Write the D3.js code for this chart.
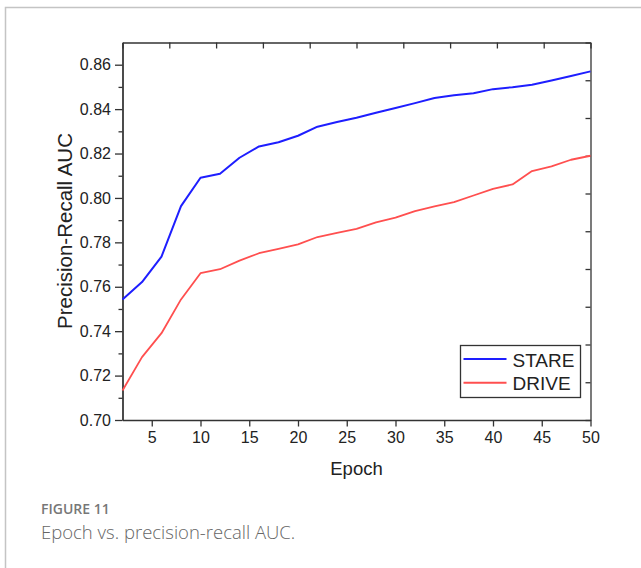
<!DOCTYPE html>
<html>
<meta charset="utf-8">
<title>Epoch vs precision-recall AUC</title>
<script src="https://d3js.org/d3.v7.min.js"></script>
<style>
body { margin: 0; background: #fff; }
.axis path, .axis line { stroke: #333; stroke-width: 1.3; }
.axis text { font-family: "Liberation Sans", Arial, sans-serif; font-size: 16px; fill: #222; }
</style>
<body>
  <svg width="641" height="568"></svg>
  <script>
  // values
  var epochs = [2,4,6,8,10,12,14,16,18,20,22,24,26,28,30,32,34,36,38,40,42,44,46,48,50];
  var stare = [0.7543,0.7621,0.7736,0.7963,0.8091,0.8109,0.8181,0.8232,0.8251,0.8280,0.8321,0.8342,0.8361,
               0.8384,0.8405,0.8427,0.8450,0.8462,0.8471,0.8490,0.8499,0.8510,0.8529,0.8549,0.8570];
  var drive = [0.7133,0.7283,0.7391,0.7543,0.7661,0.7679,0.7718,0.7751,0.7771,0.7791,0.7824,0.7843,0.7861,
               0.7890,0.7911,0.7941,0.7962,0.7981,0.8011,0.8041,0.8061,0.8121,0.8142,0.8172,0.8190];
  var xTicks = [5,10,15,20,25,30,35,40,45,50];
  var yTicks = [0.70,0.72,0.74,0.76,0.78,0.80,0.82,0.84,0.86];
  var yMinor = [0.71,0.73,0.75,0.77,0.79,0.81,0.83,0.85];
  var seriesNames = ["STARE","DRIVE"];
  var seriesColors = ["#1e1eff","#ff4f4f"];

  var svg = d3.select("svg");
  var pLeft = 122.5, pRight = 590.5, pTop = 42.5, pBottom = 420;

  // page frame
  svg.append("path")
    .attr("d", "M5.5,568V7.5H641")
    .attr("fill", "none")
    .attr("stroke", "#c4c4c4")
    .attr("stroke-width", 1.5);

  var x = d3.scaleLinear().domain([2,50]).range([pLeft,pRight]),
      y = d3.scaleLinear().domain([0.70,0.87]).range([pBottom,pTop]);
  // top and right frame axes carry ten plain divisions
  var xTop = d3.scaleLinear().domain([0,10]).range([pLeft,pRight]),
      yRight = d3.scaleLinear().domain([0,10]).range([pBottom,pTop]);

  svg.append("g").attr("class","axis")
    .attr("transform","translate(0,"+pTop+")")
    .call(d3.axisBottom(xTop).ticks(10).tickSize(6).tickSizeOuter(0).tickFormat(""));

  svg.append("g").attr("class","axis")
    .attr("transform","translate("+pRight+",0)")
    .call(d3.axisLeft(yRight).ticks(10).tickSize(5).tickSizeOuter(0).tickFormat(""));

  svg.append("g").attr("class","axis")
    .attr("transform","translate(0,"+pBottom+")")
    .call(d3.axisBottom(x).tickValues(xTicks).tickSize(6.5).tickSizeOuter(0).tickPadding(5));

  svg.append("g").attr("class","axis")
    .attr("transform","translate("+pLeft+",0)")
    .call(d3.axisLeft(y).tickValues(yMinor).tickSize(4).tickSizeOuter(0).tickFormat(""));

  svg.append("g").attr("class","axis")
    .attr("transform","translate("+pLeft+",0)")
    .call(d3.axisLeft(y).tickValues(yTicks).tickSize(7.5).tickSizeOuter(0).tickPadding(4)
      .tickFormat(d3.format(".2f")));

  var line = d3.line()
    .x(function(d,i){ return x(epochs[i]); })
    .y(function(d){ return y(d); });

  [stare, drive].forEach(function(s,k){
    svg.append("path")
      .datum(s)
      .attr("fill","none")
      .attr("stroke", seriesColors[k])
      .attr("stroke-width", k == 0 ? 2 : 1.8)
      .attr("stroke-linejoin","round")
      .attr("d", line);
  });

  // axis titles
  svg.append("text")
    .attr("x", 356.5).attr("y", 475)
    .attr("text-anchor","middle")
    .style("font-family","'Liberation Sans', Arial, sans-serif")
    .style("font-size","18.5px").style("fill","#222")
    .text("Epoch");

  svg.append("text")
    .attr("transform","translate(72,231) rotate(-90)")
    .attr("text-anchor","middle")
    .style("font-family","'Liberation Sans', Arial, sans-serif")
    .style("font-size","20.5px").style("fill","#222")
    .text("Precision-Recall AUC");

  // legend
  var lg = svg.append("g").attr("transform","translate(460.5,345.5)");
  lg.append("rect").attr("width",120).attr("height",52)
    .attr("fill","#fff").attr("stroke","#333").attr("stroke-width",1.3);
  seriesNames.forEach(function(n,k){
    var ly = 13.5 + k*23.7;
    lg.append("line").attr("x1",3).attr("x2",46).attr("y1",ly).attr("y2",ly)
      .attr("stroke", seriesColors[k]).attr("stroke-width",2);
    lg.append("text").attr("x",52).attr("y",ly+7.5)
      .style("font-family","'Liberation Sans', Arial, sans-serif")
      .style("font-size","19px").style("fill","#222")
      .text(n);
  });

  // caption
  svg.append("text").attr("x",41).attr("y",514)
    .style("font-family","'Open Sans', sans-serif").style("font-weight","600")
    .style("font-size","14px").style("fill","#777")
    .text("FIGURE 11");
  svg.append("text").attr("x",41).attr("y",539)
    .style("font-family","'Open Sans', sans-serif").style("font-weight","300")
    .style("font-size","18.5px").style("fill","#666")
    .text("Epoch vs. precision-recall AUC.");
  </script>
</body>
</html>
